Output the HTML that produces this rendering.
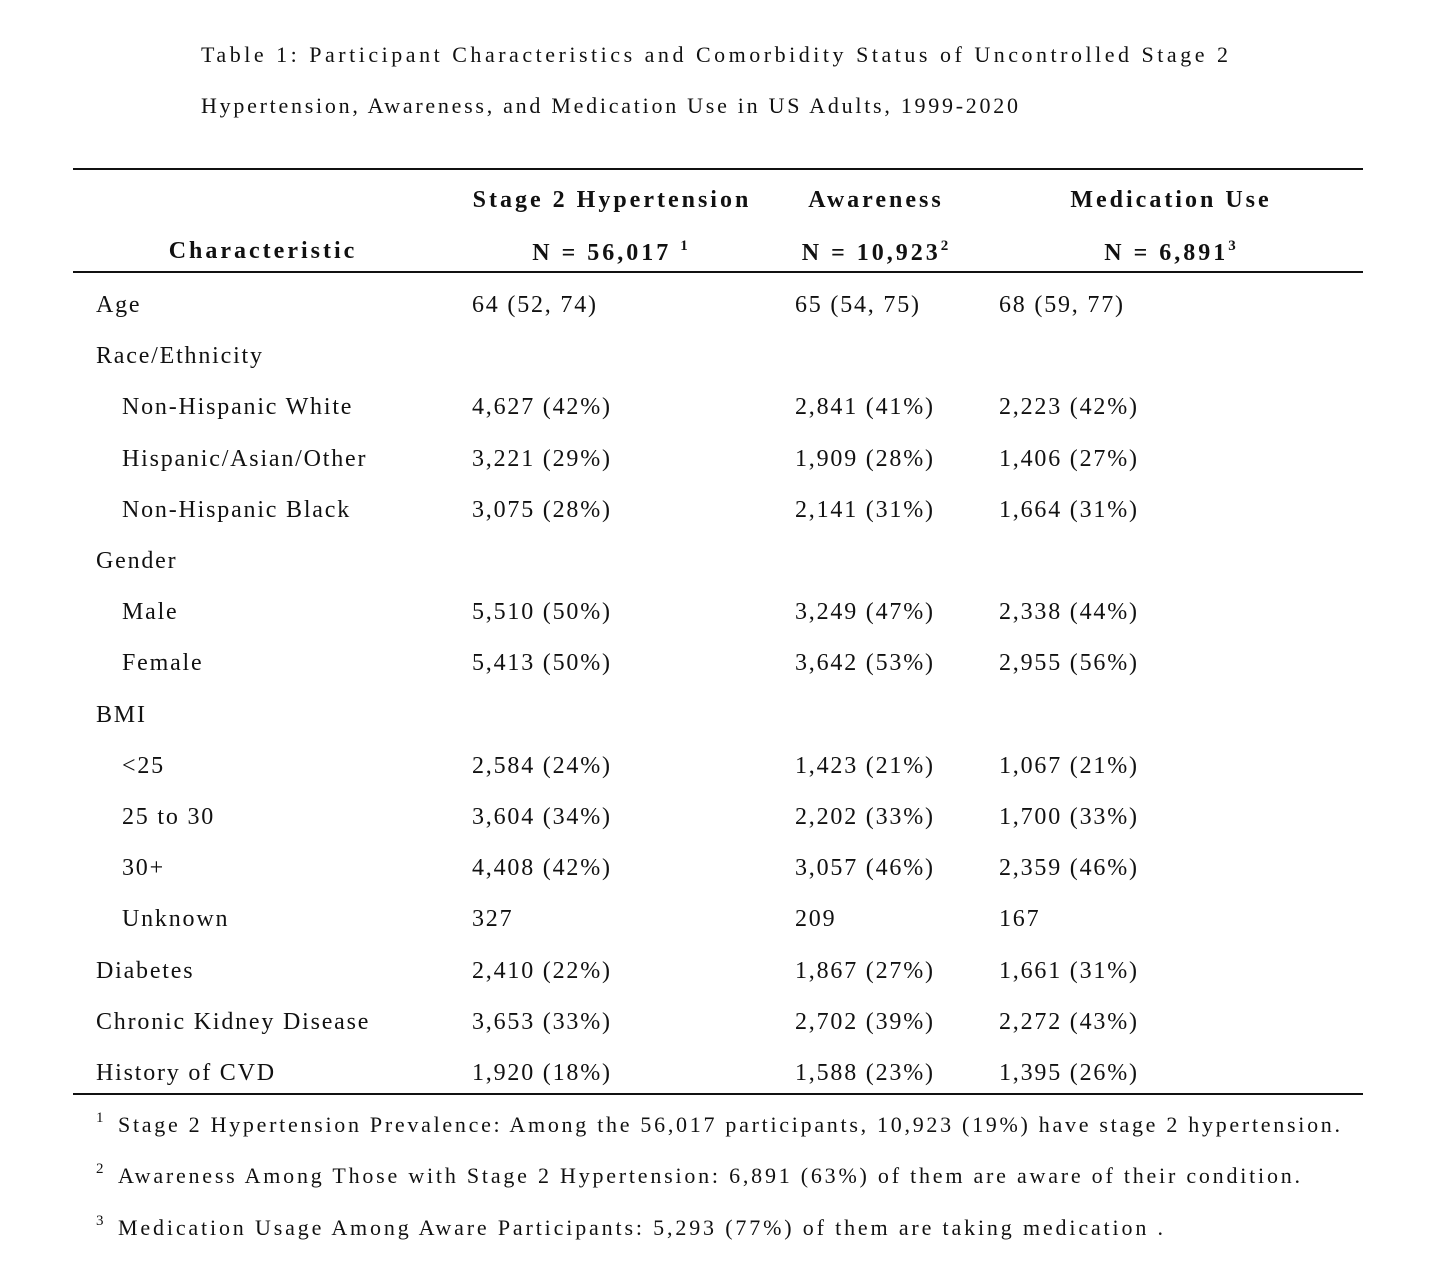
<!DOCTYPE html>
<html><head><meta charset="utf-8">
<style>
html,body{margin:0;padding:0;background:#fff;}
#page{position:relative;width:1454px;height:1264px;overflow:hidden;font-family:"Liberation Serif",serif;color:#111;}
.t{position:absolute;white-space:nowrap;font-size:24px;letter-spacing:1.8px;line-height:1;}
.b{font-weight:bold;letter-spacing:3px;}
.c{transform:translateX(-50%);}
.rule{position:absolute;left:73px;width:1290px;background:#111;}
sup{font-size:15px;vertical-align:10px;letter-spacing:0;}
svg text{font-family:"Liberation Serif",serif;fill:#111;}
</style></head><body>
<div id="page">
<svg width="1454" height="1264" style="position:absolute;left:0;top:0">
  <text x="201" y="62" font-size="22" textLength="1027" lengthAdjust="spacing">Table 1: Participant Characteristics and Comorbidity Status of Uncontrolled Stage 2</text>
  <text x="201" y="113" font-size="22" textLength="817" lengthAdjust="spacing">Hypertension, Awareness, and Medication Use in US Adults, 1999-2020</text>
  <text x="96" y="1122" font-size="15">1</text>
  <text x="118" y="1132" font-size="22" textLength="1222" lengthAdjust="spacing">Stage 2 Hypertension Prevalence: Among the 56,017 participants, 10,923 (19%) have stage 2 hypertension.</text>
  <text x="96" y="1173" font-size="15">2</text>
  <text x="118" y="1183" font-size="22" textLength="1182" lengthAdjust="spacing">Awareness Among Those with Stage 2 Hypertension: 6,891 (63%) of them are aware of their condition.</text>
  <text x="96" y="1225" font-size="15">3</text>
  <text x="118" y="1235" font-size="22" textLength="1045" lengthAdjust="spacing">Medication Usage Among Aware Participants: 5,293 (77%) of them are taking medication .</text>
</svg>
<div class="rule" style="top:168px;height:2px"></div>
<div class="rule" style="top:271px;height:2px"></div>
<div class="rule" style="top:1093px;height:2px"></div>

<div class="t b c" style="left:612px;top:188px">Stage 2 Hypertension</div>
<div class="t b c" style="left:876px;top:188px">Awareness</div>
<div class="t b c" style="left:1171px;top:188px">Medication Use</div>
<div class="t b c" style="left:263px;top:239px">Characteristic</div>
<div class="t b c" style="left:610px;top:239px">N = 56,017 <sup>1</sup></div>
<div class="t b c" style="left:875px;top:239px">N = 10,923<sup>2</sup></div>
<div class="t b c" style="left:1170px;top:239px">N = 6,891<sup>3</sup></div>

<div id="rows"></div>
</div>
<script>
const labels=["Age","Race/Ethnicity","Non-Hispanic White","Hispanic/Asian/Other","Non-Hispanic Black","Gender","Male","Female","BMI","<25","25 to 30","30+","Unknown","Diabetes","Chronic Kidney Disease","History of CVD"];
const indent=[0,0,1,1,1,0,1,1,0,1,1,1,1,0,0,0];
const col1=["64 (52, 74)","","4,627 (42%)","3,221 (29%)","3,075 (28%)","","5,510 (50%)","5,413 (50%)","","2,584 (24%)","3,604 (34%)","4,408 (42%)","327","2,410 (22%)","3,653 (33%)","1,920 (18%)"];
const col2=["65 (54, 75)","","2,841 (41%)","1,909 (28%)","2,141 (31%)","","3,249 (47%)","3,642 (53%)","","1,423 (21%)","2,202 (33%)","3,057 (46%)","209","1,867 (27%)","2,702 (39%)","1,588 (23%)"];
const col3=["68 (59, 77)","","2,223 (42%)","1,406 (27%)","1,664 (31%)","","2,338 (44%)","2,955 (56%)","","1,067 (21%)","1,700 (33%)","2,359 (46%)","167","1,661 (31%)","2,272 (43%)","1,395 (26%)"];
const host=document.getElementById('rows');
function cell(txt,x,y,name){
  const d=document.createElement('div');
  d.className='t';
  d.style.left=x+'px';d.style.top=y+'px';
  d.textContent=txt;
  
  
  host.appendChild(d);
}
labels.forEach((l,i)=>{
  const y=293+i*51.2;
  cell(l,indent[i]?122:96,y,'row-label');
  if(col1[i])cell(col1[i],472,y,'stage2-value');
  if(col2[i])cell(col2[i],795,y,'awareness-value');
  if(col3[i])cell(col3[i],999,y,'medication-value');
});
</script>
</body></html>
